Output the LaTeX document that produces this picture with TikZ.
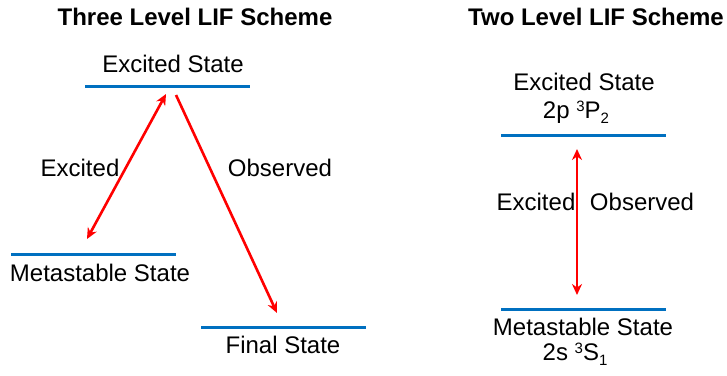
\documentclass[tikz,border=0pt]{standalone}
\usepackage{fontspec}
\setmainfont{Liberation Sans}
\usepackage{tikz}
\usetikzlibrary{arrows.meta}

\definecolor{levelblue}{RGB}{0,112,192}
\newcommand{\upidx}[1]{\raisebox{6.5pt}{\fontsize{15}{15}\selectfont #1}}
\newcommand{\lowidx}[1]{\raisebox{-5pt}{\fontsize{15}{15}\selectfont #1}}

\begin{document}
\begin{tikzpicture}[x=1pt,y=-1pt,
  font=\fontsize{24}{28}\selectfont,
  level/.style={draw=levelblue, line width=3pt},
  trans/.style={red, line width=2.6pt},
  tip/.tip={Stealth[length=11pt,width=10pt]},
  lbl/.style={anchor=base, inner sep=0pt}]
\useasboundingbox (0,0) rectangle (727,375);

% three level scheme
\node[lbl, font=\fontsize{24}{28}\selectfont\bfseries] (title3) at (195,25) {Three Level LIF Scheme};
\coordinate (ex3a) at (85,86);  \coordinate (ex3b) at (250,86);
\coordinate (ms3a) at (11,254); \coordinate (ms3b) at (176,254);
\coordinate (fi3a) at (201,327); \coordinate (fi3b) at (366,327);
\draw[level] (ex3a) -- (ex3b);
\draw[level] (ms3a) -- (ms3b);
\draw[level] (fi3a) -- (fi3b);
\node[lbl] (ex3) at (173,72) {Excited State};
\node[lbl] (ms3) at (100,281) {Metastable State};
\node[lbl] (fi3) at (283,353) {Final State};
\coordinate (up3) at (166,94);  \coordinate (lo3) at (87,239);
\coordinate (dn3) at (176,95);  \coordinate (fe3) at (277,313);
\draw[trans, tip-tip] (up3) -- (lo3);
\draw[trans, -tip] (dn3) -- (fe3);
\node[lbl] (exc3) at (80,176) {Excited};
\node[lbl] (obs3) at (280,176) {Observed};

% two level scheme
\node[lbl, font=\fontsize{24}{28}\selectfont\bfseries] (title2) at (596,25) {Two Level LIF Scheme};
\coordinate (ex2a) at (501,135); \coordinate (ex2b) at (666,135);
\coordinate (ms2a) at (501,309); \coordinate (ms2b) at (666,309);
\draw[level] (ex2a) -- (ex2b);
\draw[level] (ms2a) -- (ms2b);
\node[lbl] (ex2) at (584,90) {Excited State};
\node[lbl] (ex2t) at (576,118) {2p \upidx{3}P\lowidx{2}};
\node[lbl] (ms2) at (583,335) {Metastable State};
\node[lbl] (ms2t) at (575,360) {2s \upidx{3}S\lowidx{1}};
\coordinate (up2) at (577,149); \coordinate (lo2) at (577,295);
\draw[trans, tip-tip] (up2) -- (lo2);
\node[lbl] (exc2) at (536,210) {Excited};
\node[lbl] (obs2) at (642,210) {Observed};
\end{tikzpicture}
\end{document}
